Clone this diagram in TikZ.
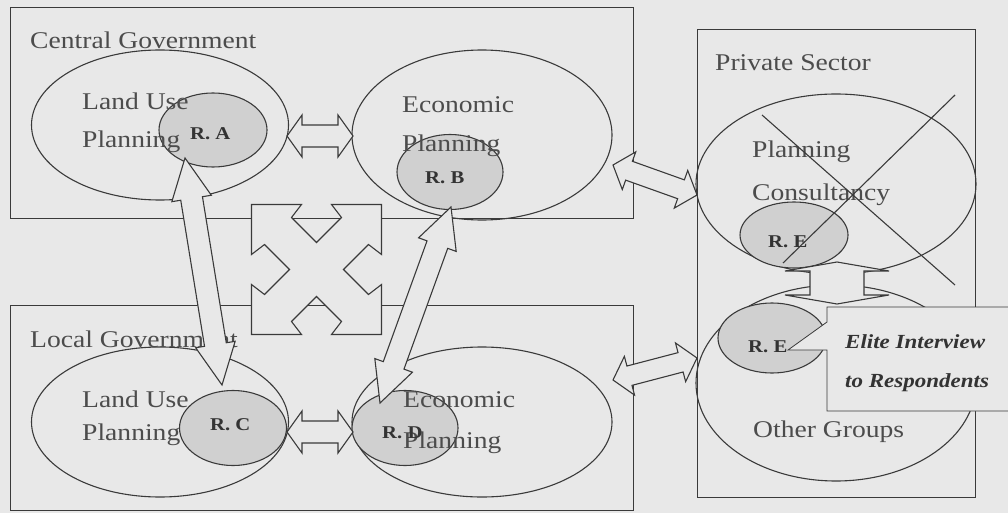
\documentclass[tikz,border=0pt]{standalone}
\usepackage{fontspec}
\setmainfont{Liberation Serif}
\usetikzlibrary{calc,shapes.geometric}
\definecolor{bgc}{HTML}{E8E8E8}
\definecolor{linec}{HTML}{3A3A3A}
\definecolor{txtc}{HTML}{4C4C4C}
\definecolor{rtxt}{HTML}{333333}
\definecolor{rfill}{HTML}{D0D0D0}
\newcommand\sx[1]{\scalebox{1.15}[1]{#1}}
% #1 tip A, #2 tip B, #3 shaft half width, #4 head half width, #5 head length
\newcommand\blockarr[5]{%
  \coordinate (pa) at ($(#1)!#5!(#2)$);
  \coordinate (pb) at ($(#2)!#5!(#1)$);
  \filldraw[barrow] (#1) -- ($(pa)!#4!90:(#2)$) -- ($(pa)!#3!90:(#2)$)
    -- ($(pb)!#3!-90:(#1)$) -- ($(pb)!#4!-90:(#1)$) -- (#2)
    -- ($(pb)!#4!90:(#1)$) -- ($(pb)!#3!90:(#1)$)
    -- ($(pa)!#3!-90:(#2)$) -- ($(pa)!#4!-90:(#2)$) -- cycle;}
\tikzset{
  boxline/.style={draw=linec, line width=1pt},
  ell/.style={ellipse, draw=linec, line width=1.1pt, inner sep=0pt},
  rell/.style={ell, fill=rfill},
  lbl/.style={anchor=base west, inner sep=0pt, text=txtc, font=\fontsize{24}{28}\selectfont},
  rlbl/.style={anchor=base west, inner sep=0pt, text=rtxt, font=\fontsize{18}{22}\selectfont\bfseries},
  clbl/.style={anchor=base west, inner sep=0pt, text=rtxt, font=\fontsize{20}{24}\selectfont\bfseries\itshape},
  barrow/.style={draw=linec, fill=bgc, line width=1.1pt, line join=miter},
  xline/.style={draw=linec, line width=1.1pt},
  callout/.style={draw=linec, fill=bgc, line width=0.8pt}
}
\begin{document}
\begin{tikzpicture}[x=1pt,y=-1pt]
\fill[bgc] (0,0) rectangle (1008,513);
\useasboundingbox (0,0) rectangle (1008,513);

% sector boxes
\draw[boxline] (10,8) rectangle (633,218);
\draw[boxline] (10,305) rectangle (633,510);
\draw[boxline] (697,30) rectangle (975,497);

% large ellipses
\node[ell, minimum width=257pt, minimum height=150pt] (CLU) at (160,125) {};
\node[ell, minimum width=260pt, minimum height=170pt] (CEP) at (482,135) {};
\node[ell, minimum width=257pt, minimum height=150pt] (LLU) at (160,422) {};
\node[ell, minimum width=260pt, minimum height=150pt] (LEP) at (482,422) {};
\node[ell, minimum width=280pt, minimum height=180pt] (PC) at (836,184) {};
\node[ell, minimum width=280pt, minimum height=196pt] (OG) at (836,383) {};

% respondent ellipses
\node[rell, minimum width=108pt, minimum height=74pt] (RA) at (213,130) {};
\node[rell, minimum width=106pt, minimum height=75pt] (RB) at (450,172) {};
\node[rell, minimum width=107pt, minimum height=75pt] (RC) at (233,428) {};
\node[rell, minimum width=106pt, minimum height=75pt] (RD) at (405,428) {};
\node[rell, minimum width=108pt, minimum height=66pt] (RE1) at (794,235) {};
\node[rell, minimum width=108pt, minimum height=70pt] (RE2) at (772,338) {};

% labels
\node[lbl] (tCG) at (30,49) {\sx{Central Government}};
\node[lbl] (tLG) at (30,347) {\sx{Local Government}};
\node[lbl] (tPS) at (715,71) {\sx{Private Sector}};
\node[lbl] (tCLU1) at (82,110) {\sx{Land Use}};
\node[lbl] (tCLU2) at (82,148) {\sx{Planning}};
\node[lbl] (tCEP1) at (402,113) {\sx{Economic}};
\node[lbl] (tCEP2) at (402,152) {\sx{Planning}};
\node[lbl] (tLLU1) at (82,407) {\sx{Land Use}};
\node[lbl] (tLLU2) at (82,440) {\sx{Planning}};
\node[lbl] (tLEP1) at (403,407) {\sx{Economic}};
\node[lbl] (tLEP2) at (403,448) {\sx{Planning}};
\node[lbl] (tPC1) at (752,158) {\sx{Planning}};
\node[lbl] (tPC2) at (752,200) {\sx{Consultancy}};
\node[lbl] (tOG) at (753,437) {\sx{Other Groups}};
\node[rlbl] (tRA) at (190,140) {\sx{R. A}};
\node[rlbl] (tRB) at (425,183) {\sx{R. B}};
\node[rlbl] (tRC) at (210,430) {\sx{R. C}};
\node[rlbl] (tRD) at (382,438) {\sx{R. D}};
\node[rlbl] (tRE1) at (768,247) {\sx{R. E}};
\node[rlbl] (tRE2) at (748,352) {\sx{R. E}};

% cross over planning consultancy
\draw[xline] (762,115) -- (955,285);
\draw[xline] (955,95) -- (783,263);

% arrow end points
\coordinate (aCL) at (287,136); \coordinate (aCR) at (353,136);
\coordinate (aLL) at (287,432); \coordinate (aLR) at (353,432);
\coordinate (dA) at (185,158);  \coordinate (dC) at (222,385);
\coordinate (dB) at (451,207);  \coordinate (dD) at (380,403);
\coordinate (eC) at (613,165);  \coordinate (eP) at (697,195);
\coordinate (eL) at (613,380);  \coordinate (eO) at (697,358);
\coordinate (vT) at (837,262);  \coordinate (vB) at (837,304);

\blockarr{aCL}{aCR}{11pt}{21pt}{15pt}
\blockarr{aLL}{aLR}{11pt}{21pt}{15pt}
\blockarr{dA}{dC}{11pt}{20pt}{41pt}
\blockarr{dB}{dD}{11pt}{20pt}{40pt}
\blockarr{eC}{eP}{10pt}{20pt}{17pt}
\blockarr{eL}{eO}{10pt}{20pt}{17pt}
\blockarr{vT}{vB}{27pt}{52pt}{9pt}

% four-way arrow
\coordinate (XC) at (316.5,269.5);
\filldraw[barrow, shift={(XC)}]
  (-65,-65) -- (-15,-65) -- (-25,-52) -- (0,-27) -- (25,-52) -- (15,-65)
  -- (65,-65) -- (65,-15) -- (52,-25) -- (27,0) -- (52,25) -- (65,15)
  -- (65,65) -- (15,65) -- (25,52) -- (0,27) -- (-25,52) -- (-15,65)
  -- (-65,65) -- (-65,15) -- (-52,25) -- (-27,0) -- (-52,-25) -- (-65,-15) -- cycle;

% callout
\filldraw[callout] (827,322) -- (827,307) -- (1012,307) -- (1012,411) -- (827,411)
  -- (827,350) -- (788,350) -- cycle;
\node[clbl] (tEI1) at (845,348) {\sx{Elite Interview}};
\node[clbl] (tEI2) at (845,387) {\sx{to Respondents}};
\end{tikzpicture}
\end{document}
